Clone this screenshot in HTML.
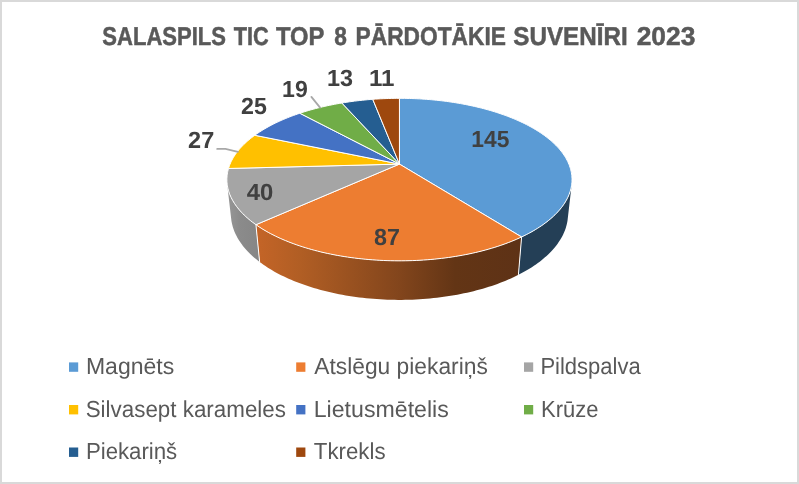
<!DOCTYPE html>
<html><head><meta charset="utf-8"><style>
html,body{margin:0;padding:0;background:#fff;}
svg{display:block;will-change:transform;}
text{text-rendering:geometricPrecision;}
.ttl{font-family:"Liberation Sans",sans-serif;font-weight:bold;font-size:25.8px;fill:#595959;stroke:#595959;stroke-width:0.5px;}
.lbl{font-family:"Liberation Sans",sans-serif;font-weight:bold;font-size:23.4px;fill:#404040;}
.leg{font-family:"Liberation Sans",sans-serif;font-size:23.2px;fill:#595959;}
</style></head><body>
<svg width="799" height="484" viewBox="0 0 799 484">
<defs>
<linearGradient id="og" gradientUnits="userSpaceOnUse" x1="259" y1="0" x2="519" y2="0">
<stop offset="0" stop-color="#C36427"/>
<stop offset="0.158" stop-color="#B15E24"/>
<stop offset="0.543" stop-color="#82451C"/>
<stop offset="0.754" stop-color="#633515"/>
<stop offset="1" stop-color="#5E3216"/>
</linearGradient>
<linearGradient id="gg" gradientUnits="userSpaceOnUse" x1="227" y1="0" x2="259" y2="0">
<stop offset="0" stop-color="#979797"/>
<stop offset="0.4" stop-color="#8B8B8B"/>
<stop offset="1" stop-color="#868686"/>
</linearGradient>
</defs>
<rect x="1" y="1" width="797" height="482" fill="#fff" stroke="#D9D9D9" stroke-width="2"/>
<text transform="translate(102.37,44.80) scale(0.8537,1)" class="ttl">SALASPILS</text>
<text transform="translate(233.80,44.80) scale(0.8422,1)" class="ttl">TIC</text>
<text transform="translate(276.00,44.80) scale(0.9210,1)" class="ttl">TOP</text>
<text transform="translate(334.17,44.80) scale(0.8788,1)" class="ttl">8</text>
<text transform="translate(355.58,44.80) scale(0.8818,1)" class="ttl">PĀRDOTĀKIE</text>
<text transform="translate(513.33,44.80) scale(0.9383,1)" class="ttl">SUVENĪRI</text>
<text transform="translate(636.69,44.80) scale(1.0214,1)" class="ttl">2023</text>
<polygon points="571.76,183.99 571.56,185.46 571.31,186.93 570.99,188.40 570.62,189.88 570.19,191.35 569.70,192.83 569.15,194.31 568.55,195.78 567.88,197.26 567.15,198.74 566.36,200.21 565.51,201.68 564.59,203.15 563.62,204.61 562.58,206.07 561.48,207.53 560.32,208.98 559.10,210.42 557.81,211.86 556.46,213.29 555.05,214.71 553.57,216.12 552.04,217.53 550.44,218.92 548.77,220.30 547.05,221.67 545.26,223.03 543.42,224.38 541.51,225.71 539.54,227.02 537.50,228.33 535.41,229.61 533.26,230.88 531.05,232.14 528.78,233.37 526.45,234.59 524.06,235.78 521.62,236.96 518.40,274.86 520.79,273.62 523.12,272.36 525.39,271.09 527.61,269.79 529.78,268.47 531.88,267.14 533.93,265.79 535.92,264.42 537.85,263.03 539.72,261.63 541.53,260.22 543.28,258.79 544.97,257.35 546.60,255.89 548.17,254.43 549.68,252.95 551.13,251.46 552.52,249.97 553.85,248.46 555.11,246.95 556.32,245.43 557.46,243.90 558.55,242.37 559.57,240.83 560.54,239.29 561.44,237.74 562.29,236.19 563.07,234.64 563.79,233.08 564.46,231.52 565.07,229.96 565.62,228.41 566.11,226.85 566.54,225.29 566.91,223.73 567.23,222.18 567.50,220.63 567.70,219.08" fill="#243F56"/>
<polygon points="521.62,236.96 519.12,238.12 516.57,239.25 513.97,240.36 511.31,241.45 508.59,242.51 505.83,243.55 503.01,244.57 500.15,245.56 497.24,246.52 494.27,247.46 491.27,248.37 488.22,249.25 485.12,250.11 481.98,250.93 478.80,251.73 475.59,252.49 472.33,253.23 469.04,253.93 465.71,254.60 462.35,255.24 458.95,255.85 455.53,256.42 452.07,256.96 448.59,257.46 445.09,257.94 441.56,258.37 438.01,258.77 434.44,259.14 430.85,259.47 427.24,259.77 423.62,260.03 419.99,260.25 416.35,260.44 412.70,260.59 409.04,260.70 405.37,260.78 401.71,260.82 398.04,260.83 394.37,260.79 390.71,260.72 387.05,260.62 383.39,260.48 379.75,260.30 376.11,260.08 372.49,259.83 368.88,259.54 365.29,259.22 361.71,258.86 358.16,258.47 354.62,258.04 351.11,257.58 347.63,257.08 344.17,256.55 340.74,255.98 337.34,255.38 333.97,254.75 330.63,254.09 327.33,253.39 324.06,252.66 320.84,251.91 317.65,251.12 314.50,250.30 311.40,249.45 308.33,248.58 305.32,247.67 302.35,246.74 299.42,245.78 296.54,244.80 293.72,243.79 290.94,242.75 288.22,241.70 285.55,240.61 282.93,239.51 280.36,238.38 277.85,237.23 275.40,236.06 273.00,234.87 270.66,233.66 268.38,232.43 266.16,231.18 263.99,229.91 261.89,228.63 259.85,227.34 257.86,226.02 255.94,224.70 259.63,261.97 261.51,263.37 263.46,264.74 265.46,266.11 267.51,267.45 269.63,268.78 271.80,270.09 274.04,271.39 276.32,272.66 278.66,273.91 281.06,275.14 283.51,276.34 286.01,277.53 288.57,278.69 291.18,279.83 293.84,280.94 296.54,282.02 299.30,283.08 302.10,284.12 304.96,285.12 307.85,286.10 310.79,287.05 313.78,287.96 316.80,288.85 319.87,289.71 322.97,290.54 326.11,291.33 329.29,292.09 332.51,292.82 335.76,293.52 339.03,294.18 342.34,294.81 345.68,295.40 349.05,295.96 352.44,296.48 355.86,296.96 359.29,297.41 362.75,297.82 366.23,298.20 369.72,298.54 373.23,298.84 376.76,299.10 380.29,299.33 383.84,299.52 387.39,299.66 390.95,299.78 394.51,299.85 398.08,299.88 401.65,299.88 405.21,299.83 408.77,299.75 412.33,299.63 415.88,299.48 419.43,299.28 422.96,299.05 426.48,298.77 429.98,298.46 433.47,298.12 436.95,297.73 440.40,297.31 443.83,296.85 447.24,296.36 450.63,295.83 453.99,295.27 457.32,294.67 460.63,294.03 463.90,293.36 467.14,292.66 470.34,291.92 473.52,291.15 476.65,290.35 479.75,289.52 482.80,288.65 485.82,287.76 488.79,286.83 491.72,285.88 494.61,284.89 497.45,283.88 500.24,282.84 502.99,281.78 505.68,280.68 508.33,279.57 510.93,278.42 513.47,277.26 515.96,276.07 518.40,274.86" fill="url(#og)"/>
<polygon points="255.94,224.70 254.06,223.34 252.25,221.98 250.49,220.60 248.80,219.20 247.18,217.80 245.62,216.39 244.12,214.96 242.68,213.53 241.31,212.09 240.00,210.64 238.76,209.19 237.58,207.73 236.46,206.26 235.41,204.79 234.42,203.31 233.49,201.83 232.62,200.35 231.82,198.86 231.08,197.37 230.40,195.88 229.78,194.40 229.23,192.91 228.73,191.42 228.30,189.93 227.92,188.44 227.60,186.96 227.35,185.47 227.15,183.99 231.20,219.08 231.41,220.64 231.68,222.21 232.00,223.77 232.38,225.34 232.82,226.91 233.32,228.49 233.87,230.06 234.49,231.63 235.16,233.20 235.90,234.77 236.70,236.34 237.55,237.90 238.47,239.46 239.45,241.02 240.49,242.57 241.59,244.11 242.76,245.65 243.98,247.18 245.27,248.71 246.62,250.23 248.03,251.73 249.50,253.23 251.04,254.72 252.63,256.19 254.29,257.66 256.01,259.11 257.79,260.55 259.63,261.97" fill="url(#gg)"/>
<line x1="521.62" y1="236.96" x2="518.40" y2="274.86" stroke="#fff" stroke-width="1"/>
<line x1="255.94" y1="224.70" x2="259.63" y2="261.97" stroke="#fff" stroke-width="1"/>
<polygon points="399.45,164.08 399.45,98.33 401.94,98.34 404.43,98.36 406.91,98.40 409.40,98.46 411.88,98.54 414.36,98.63 416.84,98.74 419.31,98.87 421.79,99.01 424.25,99.17 426.72,99.35 429.18,99.54 431.64,99.75 434.09,99.98 436.53,100.23 438.97,100.49 441.40,100.77 443.83,101.06 446.25,101.37 448.66,101.70 451.06,102.05 453.46,102.41 455.84,102.79 458.22,103.18 460.58,103.60 462.94,104.03 465.28,104.47 467.62,104.94 469.94,105.42 472.25,105.91 474.55,106.43 476.83,106.96 479.11,107.50 481.36,108.07 483.61,108.65 485.84,109.24 488.05,109.85 490.25,110.48 492.43,111.13 494.59,111.79 496.74,112.47 498.87,113.17 500.98,113.88 503.07,114.61 505.14,115.35 507.20,116.11 509.23,116.89 511.24,117.68 513.23,118.49 515.20,119.32 517.14,120.16 519.07,121.02 520.96,121.89 522.84,122.78 524.69,123.68 526.51,124.60 528.31,125.54 530.08,126.49 531.82,127.45 533.54,128.44 535.23,129.43 536.89,130.45 538.52,131.47 540.12,132.51 541.68,133.57 543.22,134.64 544.72,135.73 546.19,136.83 547.63,137.94 549.04,139.07 550.41,140.21 551.74,141.37 553.04,142.54 554.30,143.72 555.52,144.91 556.71,146.12 557.85,147.34 558.96,148.58 560.03,149.82 561.05,151.08 562.04,152.35 562.98,153.63 563.88,154.93 564.74,156.23 565.55,157.55 566.32,158.87 567.04,160.21 567.72,161.56 568.34,162.91 568.93,164.28 569.46,165.65 569.95,167.04 570.38,168.43 570.77,169.83 571.10,171.24 571.39,172.65 571.62,174.07 571.80,175.50 571.92,176.93 571.99,178.37 572.01,179.82 571.98,181.27 571.88,182.72 571.74,184.18 571.53,185.64 571.27,187.11 570.95,188.58 570.58,190.05 570.14,191.52 569.65,192.99 569.09,194.46 568.48,195.93 567.81,197.40 567.08,198.87 566.28,200.34 565.43,201.81 564.51,203.27 563.54,204.73 562.50,206.19 561.40,207.64 560.24,209.08 559.01,210.52 557.73,211.95 556.38,213.38 554.97,214.79 553.49,216.20 551.96,217.60 550.36,218.98 548.70,220.36 546.98,221.73 545.20,223.08 543.35,224.42 541.45,225.75 539.48,227.06 537.45,228.36 535.37,229.64 533.22,230.90 531.02,232.15 528.75,233.38 526.43,234.60 524.06,235.79 521.62,236.96" fill="#5B9BD5" stroke="#fff" stroke-width="1" stroke-linejoin="round"/>
<polygon points="399.45,164.08 521.62,236.96 519.12,238.12 516.57,239.25 513.97,240.36 511.31,241.45 508.59,242.51 505.83,243.55 503.01,244.57 500.15,245.56 497.24,246.52 494.27,247.46 491.27,248.37 488.22,249.25 485.12,250.11 481.98,250.93 478.80,251.73 475.59,252.49 472.33,253.23 469.04,253.93 465.71,254.60 462.35,255.24 458.95,255.85 455.53,256.42 452.07,256.96 448.59,257.46 445.09,257.94 441.56,258.37 438.01,258.77 434.44,259.14 430.85,259.47 427.24,259.77 423.62,260.03 419.99,260.25 416.35,260.44 412.70,260.59 409.04,260.70 405.37,260.78 401.71,260.82 398.04,260.83 394.37,260.79 390.71,260.72 387.05,260.62 383.39,260.48 379.75,260.30 376.11,260.08 372.49,259.83 368.88,259.54 365.29,259.22 361.71,258.86 358.16,258.47 354.62,258.04 351.11,257.58 347.63,257.08 344.17,256.55 340.74,255.98 337.34,255.38 333.97,254.75 330.63,254.09 327.33,253.39 324.06,252.66 320.84,251.91 317.65,251.12 314.50,250.30 311.40,249.45 308.33,248.58 305.32,247.67 302.35,246.74 299.42,245.78 296.54,244.80 293.72,243.79 290.94,242.75 288.22,241.70 285.55,240.61 282.93,239.51 280.36,238.38 277.85,237.23 275.40,236.06 273.00,234.87 270.66,233.66 268.38,232.43 266.16,231.18 263.99,229.91 261.89,228.63 259.85,227.34 257.86,226.02 255.94,224.70" fill="#ED7D31" stroke="#fff" stroke-width="1" stroke-linejoin="round"/>
<polygon points="399.45,164.08 255.94,224.70 254.08,223.35 252.27,222.00 250.53,220.63 248.85,219.25 247.24,217.85 245.68,216.45 244.19,215.04 242.77,213.62 241.40,212.19 240.10,210.75 238.86,209.31 237.68,207.86 236.57,206.40 235.51,204.94 234.52,203.48 233.60,202.01 232.73,200.54 231.93,199.06 231.18,197.59 230.50,196.11 229.88,194.63 229.31,193.15 228.81,191.67 228.37,190.19 227.99,188.72 227.66,187.24 227.39,185.77 227.18,184.30 227.03,182.84 226.93,181.38 226.89,179.92 226.91,178.47 226.98,177.02 227.10,175.58 227.28,174.15 227.51,172.72 227.79,171.30 228.12,169.88 228.51,168.48" fill="#A5A5A5" stroke="#fff" stroke-width="1" stroke-linejoin="round"/>
<polygon points="399.45,164.08 228.51,168.48 228.95,167.06 229.44,165.65 229.99,164.26 230.58,162.87 231.22,161.49 231.91,160.12 232.65,158.76 233.43,157.41 234.27,156.08 235.14,154.75 236.06,153.44 237.03,152.14 238.04,150.85 239.09,149.57 240.18,148.31 241.32,147.05 242.50,145.81 243.71,144.59 244.97,143.38 246.26,142.18 247.59,140.99 248.96,139.82 250.36,138.67 251.80,137.52 253.28,136.40 254.79,135.28" fill="#FFC000" stroke="#fff" stroke-width="1" stroke-linejoin="round"/>
<polygon points="399.45,164.08 254.79,135.28 256.34,134.18 257.92,133.10 259.53,132.03 261.18,130.97 262.85,129.93 264.56,128.91 266.30,127.90 268.07,126.90 269.86,125.93 271.68,124.97 273.53,124.02 275.41,123.09 277.32,122.18 279.24,121.29 281.20,120.41 283.18,119.54 285.18,118.70 287.20,117.87 289.25,117.06 291.32,116.26 293.41,115.48 295.52,114.72 297.65,113.97 299.80,113.24" fill="#4472C4" stroke="#fff" stroke-width="1" stroke-linejoin="round"/>
<polygon points="399.45,164.08 299.80,113.24 302.00,112.52 304.22,111.82 306.46,111.14 308.71,110.47 310.98,109.82 313.27,109.19 315.58,108.57 317.90,107.97 320.24,107.40 322.59,106.83 324.95,106.29 327.33,105.76 329.72,105.26 332.13,104.77 334.55,104.29 336.98,103.84 339.42,103.40 341.87,102.99" fill="#70AD47" stroke="#fff" stroke-width="1" stroke-linejoin="round"/>
<polygon points="399.45,164.08 341.87,102.99 344.39,102.58 346.93,102.18 349.47,101.81 352.03,101.46 354.59,101.12 357.17,100.81 359.75,100.51 362.33,100.23 364.93,99.97 367.53,99.73 370.13,99.51 372.75,99.31" fill="#255E91" stroke="#fff" stroke-width="1" stroke-linejoin="round"/>
<polygon points="399.45,164.08 372.75,99.31 375.40,99.12 378.06,98.95 380.73,98.81 383.40,98.68 386.07,98.57 388.74,98.48 391.42,98.42 394.09,98.37 396.77,98.34 399.45,98.33" fill="#9E480E" stroke="#fff" stroke-width="1" stroke-linejoin="round"/>
<polyline points="217.2,148.9 225.5,148.9 237.9,151.8" fill="none" stroke="#A8A8A8" stroke-width="1.8" stroke-linecap="round"/>
<line x1="311.4" y1="96.9" x2="320.1" y2="107.6" stroke="#A8A8A8" stroke-width="1.8" stroke-linecap="round"/>
<text transform="translate(471.34,146.90) scale(0.9756,1)" class="lbl">145</text>
<text transform="translate(374.10,245.00) scale(0.9959,1)" class="lbl">87</text>
<text transform="translate(246.79,199.80) scale(1.0202,1)" class="lbl">40</text>
<text transform="translate(188.10,147.90) scale(1.0041,1)" class="lbl">27</text>
<text transform="translate(241.11,113.80) scale(0.9919,1)" class="lbl">25</text>
<text transform="translate(282.12,97.20) scale(0.9873,1)" class="lbl">19</text>
<text transform="translate(327.00,86.00) scale(1.0000,1)" class="lbl">13</text>
<text transform="translate(368.95,86.00) scale(1.0310,1)" class="lbl">11</text>
<rect x="69.0" y="362.4" width="9.2" height="9.4" fill="#5B9BD5"/>
<text transform="translate(85.91,373.80) scale(0.9930,1)" class="leg">Magnēts</text>
<rect x="296.2" y="362.4" width="9.2" height="9.4" fill="#ED7D31"/>
<text transform="translate(314.30,373.80) scale(0.9824,1)" class="leg">Atslēgu piekariņš</text>
<rect x="524.0" y="362.4" width="9.2" height="9.4" fill="#A5A5A5"/>
<text transform="translate(540.40,373.80) scale(0.9490,1)" class="leg">Pildspalva</text>
<rect x="69.0" y="405.0" width="9.2" height="9.4" fill="#FFC000"/>
<text transform="translate(85.69,416.80) scale(0.9652,1)" class="leg">Silvasept karameles</text>
<rect x="296.2" y="405.0" width="9.2" height="9.4" fill="#4472C4"/>
<text transform="translate(313.70,416.80) scale(0.9985,1)" class="leg">Lietusmētelis</text>
<rect x="524.0" y="405.0" width="9.2" height="9.4" fill="#70AD47"/>
<text transform="translate(540.95,416.80) scale(0.9489,1)" class="leg">Krūze</text>
<rect x="69.0" y="447.5" width="9.2" height="9.4" fill="#255E91"/>
<text transform="translate(85.88,459.40) scale(0.9579,1)" class="leg">Piekariņš</text>
<rect x="296.2" y="447.5" width="9.2" height="9.4" fill="#9E480E"/>
<text transform="translate(313.82,459.40) scale(0.9605,1)" class="leg">Tkrekls</text>
</svg>
</body></html>
